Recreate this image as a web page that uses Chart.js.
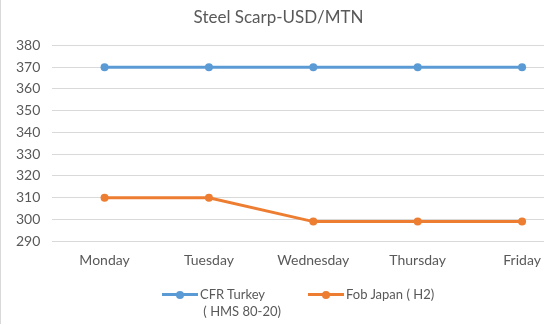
<!DOCTYPE html>
<html>
<head>
<meta charset="utf-8">
<script src="https://cdn.jsdelivr.net/npm/chart.js@4/dist/chart.umd.min.js"></script>
<style>
  html, body { margin: 0; padding: 0; background: #fff; overflow: hidden; }
  #wrap { position: relative; width: 548px; height: 325px; }
  #frame { position: absolute; left: 0; top: 0; width: 547px; height: 324px; border-left: 1px solid #d9d9d9; box-sizing: border-box; pointer-events: none; }
  #legend { position: absolute; top: 286px; left: 0; width: 548px; font-family: Lato, sans-serif; font-size: 13px; color: #595959; }
  .item { position: absolute; display: flex; align-items: flex-start; }
  .swatch { position: relative; width: 36px; height: 16px; margin-right: 2px; }
  .swatch .ln { position: absolute; left: 0; right: 0; top: 7px; height: 3px; }
  .swatch .dot { position: absolute; left: 14px; top: 4.5px; width: 8px; height: 8px; border-radius: 50%; }
  .txt { line-height: 17px; }
</style>
</head>
<body>
<div id="wrap">
  <canvas id="c" width="548" height="325"></canvas>
  <div id="frame"></div>
  <div id="legend"></div>
</div>
<script>
const days = ["Monday", "Tuesday", "Wednesday", "Thursday", "Friday"];
const cfrTurkey = [370, 370, 370, 370, 370];
const fobJapan = [310, 310, 299, 299, 299];
const seriesNames = [["CFR Turkey", "( HMS 80-20)"], ["Fob Japan ( H2)"]];
const yTicks = [290, 300, 310, 320, 330, 340, 350, 360, 370, 380];
const colors = ["#5b9bd5", "#ed7d31"];

const toPts = arr => arr.map((v, i) => ({ x: i, y: v }));

new Chart(document.getElementById("c"), {
  type: "line",
  data: {
    datasets: [
      { label: seriesNames[0].join(" "), data: toPts(cfrTurkey), borderColor: colors[0], backgroundColor: colors[0], borderWidth: 3, pointRadius: 4, pointBorderWidth: 0, tension: 0 },
      { label: seriesNames[1].join(" "), data: toPts(fobJapan), borderColor: colors[1], backgroundColor: colors[1], borderWidth: 3, pointRadius: 4, pointBorderWidth: 0, tension: 0 }
    ]
  },
  options: {
    responsive: false,
    animation: false,
    devicePixelRatio: 1,
    layout: { padding: { left: 4, right: -5, top: 4, bottom: 45 } },
    plugins: {
      legend: { display: false },
      tooltip: { enabled: false },
      title: {
        display: true,
        text: "Steel Scarp-USD/MTN",
        color: "#595959",
        font: { family: "Lato", size: 17, weight: "normal" },
        padding: { top: 3, bottom: 18 }
      }
    },
    scales: {
      x: {
        type: "linear",
        min: -0.5,
        max: 4.21,
        afterBuildTicks: axis => { axis.ticks = days.map((_, i) => ({ value: i })); },
        afterFit: s => { s.paddingLeft = 0; s.paddingRight = 0; },
        ticks: {
          callback: v => days[v],
          color: "#595959",
          font: { family: "Lato", size: 14 },
          padding: 11,
          maxRotation: 0,
          autoSkip: false
        },
        grid: { display: false, drawTicks: false },
        border: { display: false }
      },
      y: {
        min: yTicks[0],
        max: yTicks[yTicks.length - 1],
        afterBuildTicks: axis => { axis.ticks = yTicks.map(v => ({ value: v })); },
        ticks: {
          color: "#595959",
          font: { family: "Lato", size: 14 },
          padding: 12
        },
        grid: { color: "#d9d9d9", lineWidth: 1, drawTicks: false },
        border: { display: false }
      }
    }
  }
});

// HTML legend built from series names and colours
const legend = document.getElementById("legend");
const lefts = [162, 308];
seriesNames.forEach((lines, i) => {
  const it = document.createElement("div");
  it.className = "item";
  it.style.left = lefts[i] + "px";
  it.innerHTML = '<div class="swatch"><div class="ln" style="background:' + colors[i] + '"></div><div class="dot" style="background:' + colors[i] + '"></div></div>' +
    '<div class="txt">' + lines.join("<br>&nbsp;") + '</div>';
  legend.appendChild(it);
});
</script>
</body>
</html>
